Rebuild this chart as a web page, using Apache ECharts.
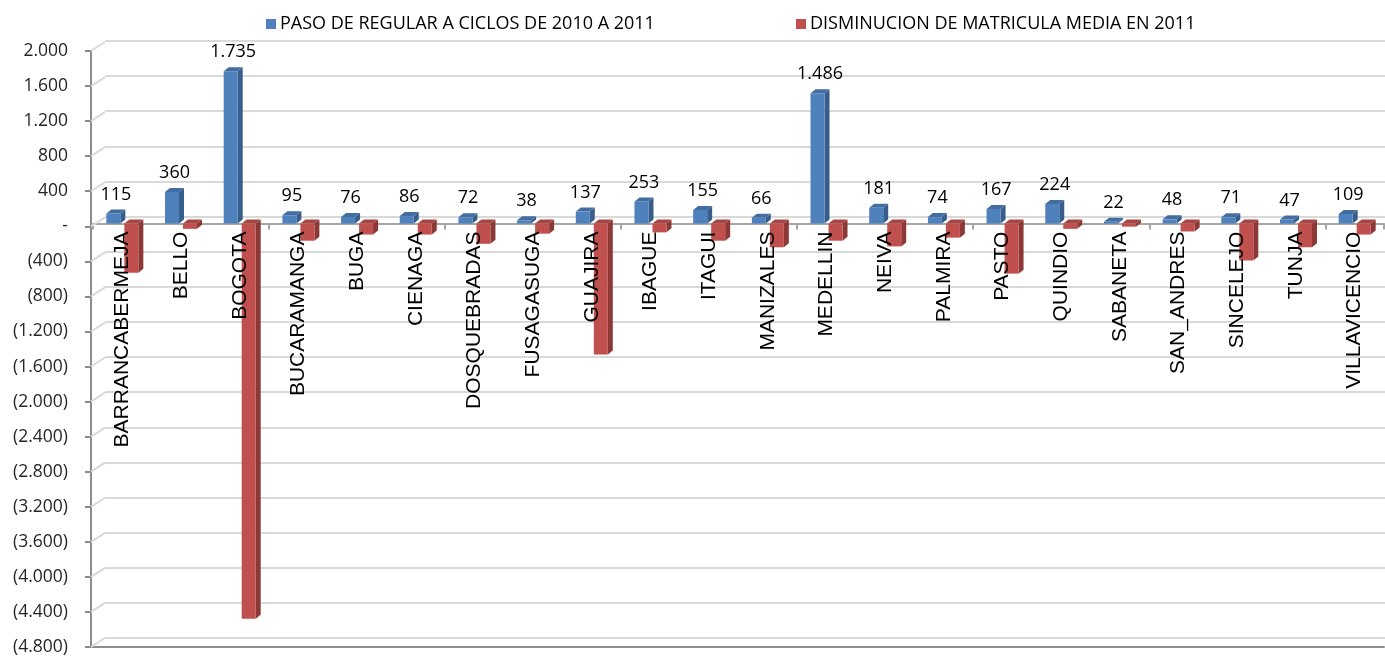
<!DOCTYPE html>
<html>
<head>
<meta charset="utf-8">
<script src="https://cdn.jsdelivr.net/npm/echarts@6/dist/echarts.min.js"></script>
<style>
  html, body { margin: 0; padding: 0; background: #FFFFFF; }
  #chart { width: 1385px; height: 657px; }
</style>
</head>
<body>
<div id="chart"></div>
<script>
(function () {
  "use strict";

  const CIUDADES = ["BARRANCABERMEJA", "BELLO", "BOGOTA", "BUCARAMANGA", "BUGA", "CIENAGA",
    "DOSQUEBRADAS", "FUSAGASUGA", "GUAJIRA", "IBAGUE", "ITAGUI", "MANIZALES", "MEDELLIN",
    "NEIVA", "PALMIRA", "PASTO", "QUINDIO", "SABANETA", "SAN_ANDRES", "SINCELEJO", "TUNJA",
    "VILLAVICENCIO"];
  const PASO_CICLOS = [115, 360, 1735, 95, 76, 86, 72, 38, 137, 253, 155, 66, 1486, 181, 74,
    167, 224, 22, 48, 71, 47, 109];
  const DISMINUCION = [-560, -60, -4500, -195, -125, -125, -230, -115, -1490, -100, -195, -270,
    -195, -260, -160, -570, -60, -35, -90, -420, -270, -125];
  const SERIE_A = "PASO DE REGULAR A CICLOS DE 2010 A 2011";
  const SERIE_B = "DISMINUCION DE MATRICULA MEDIA EN 2011";
  const Y_MIN = -4800, Y_MAX = 2000, Y_STEP = 400;

  const el = document.getElementById("chart");
  const chart = echarts.init(el, null, { renderer: "canvas" });

  // separador de miles con punto, negativos entre paréntesis, cero como "-"
  const miles = (v) => String(Math.abs(Math.round(v))).replace(/\B(?=(\d{3})+(?!\d))/g, ".");
  const fmtEje = (v) => (v === 0 ? "-" : v < 0 ? "(" + miles(v) + ")" : miles(v));

  const BAR_W = 14, DX = 5, DY = 4;

  // columna "3D" tipo Excel: cara frontal + lateral oscuro + tapa
  function columna3d(offset, caras, conEtiqueta) {
    return function (params, api) {
      const i = api.value(0), v = api.value(1);
      const p0 = api.coord([i, 0]), p1 = api.coord([i, v]);
      const x = p0[0] + offset - BAR_W / 2;
      const yTop = Math.min(p0[1], p1[1]);
      const yBot = Math.max(p0[1], p1[1]);
      const kids = [
        { type: "polygon", shape: { points: [[x + BAR_W, yTop], [x + BAR_W + DX, yTop - DY],
            [x + BAR_W + DX, yBot - DY], [x + BAR_W, yBot]] }, style: { fill: caras.side } },
        { type: "polygon", shape: { points: [[x, yTop], [x + DX, yTop - DY],
            [x + BAR_W + DX, yTop - DY], [x + BAR_W, yTop]] }, style: { fill: caras.top } },
        { type: "rect", shape: { x: x, y: yTop, width: BAR_W, height: yBot - yTop },
          style: { fill: caras.front } },
      ];
      if (conEtiqueta) {
        kids.push({ type: "text", style: {
          text: miles(v), x: x + BAR_W / 2 + DX / 2, y: yTop - DY - 6,
          align: "center", verticalAlign: "bottom",
          font: "18px 'Open Sans', sans-serif", fill: "#000000" } });
      }
      return { type: "group", children: kids };
    };
  }

  // pared izquierda: diagonal desde cada marca del eje hasta la línea del fondo
  const MARCAS = [];
  for (let v = Y_MIN; v <= Y_MAX; v += Y_STEP) MARCAS.push(v);
  function diagonalPared(params, api) {
    const p = api.coord([0, api.value(0)]);
    const x0 = params.coordSys.x;
    return { type: "line", shape: { x1: x0, y1: p[1], x2: x0 + 14, y2: p[1] - 9 },
             style: { stroke: "#D9D9D9", lineWidth: 2 } };
  }

  const AZUL = { front: "#4F81BD", side: "#385D8A", top: "#426DA0" };
  const ROJO = { front: "#C0504D", side: "#8C3836", top: "#A64542" };

  const leyenda = (nombre, left) => ({
    top: 10, left: left, itemWidth: 10, itemHeight: 10, icon: "rect", itemGap: 0,
    textStyle: { fontFamily: "Open Sans", fontSize: 18, color: "#000000", padding: [0, 0, 0, -1] },
    data: [nombre],
  });

  const sinBordes = { outerBoundsMode: "none", containLabel: false };
  const BAR_TOP = 48, BAR_H = 597;
  const ALTO_POSITIVO = BAR_H * Y_MAX / (Y_MAX - Y_MIN); // franja de 0 a 2.000
  const franjaCero = Object.assign({ left: 93, right: 1, top: BAR_TOP, height: ALTO_POSITIVO }, sinBordes);

  chart.setOption({
    animation: false,
    legend: [leyenda(SERIE_A, 261), leyenda(SERIE_B, 791)],
    grid: [
      // frente: eje de valores y borde inferior del piso
      Object.assign({ left: 91, right: 1, top: 51, bottom: 10 }, sinBordes),
      // pared del fondo: líneas de división
      Object.assign({ left: 105, right: 0, top: 41, bottom: 19 }, sinBordes),
      // columnas
      Object.assign({ left: 93, right: 1, top: BAR_TOP, height: BAR_H }, sinBordes),
      // eje de categorías en el cero (línea + marcas, bajo las columnas)
      franjaCero,
      // nombres de las ciudades (sobre las columnas)
      Object.assign({}, franjaCero),
    ],
    xAxis: [
      { type: "category", gridIndex: 0, data: CIUDADES, position: "bottom",
        axisLine: { onZero: false, lineStyle: { color: "#8C8C8C", width: 2 } },
        axisTick: { show: false }, axisLabel: { show: false } },
      { type: "category", gridIndex: 1, data: CIUDADES, show: false },
      { type: "category", gridIndex: 2, data: CIUDADES, show: false },
      { type: "category", gridIndex: 3, data: CIUDADES, position: "bottom",
        axisLine: { onZero: false, lineStyle: { color: "#A6A6A6", width: 2 } },
        axisTick: { show: true, inside: false, length: 6, lineStyle: { color: "#A6A6A6", width: 2 } },
        axisLabel: { show: false } },
      { type: "category", gridIndex: 4, data: CIUDADES, position: "bottom", z: 10,
        axisLine: { show: false }, axisTick: { show: false },
        axisLabel: { interval: 0, rotate: 90, margin: 8, color: "#000000",
                     fontFamily: "'Liberation Sans', Arial, sans-serif", fontSize: 21 } },
    ],
    yAxis: [
      { type: "value", gridIndex: 0, min: Y_MIN, max: Y_MAX, interval: Y_STEP,
        axisLine: { show: true, lineStyle: { color: "#8C8C8C", width: 2 } },
        axisTick: { show: true, length: 6, lineStyle: { color: "#8C8C8C", width: 2 } },
        splitLine: { show: false },
        axisLabel: { formatter: fmtEje, margin: 23, color: "#262626",
                     fontFamily: "Open Sans", fontSize: 17.5 } },
      { type: "value", gridIndex: 1, min: Y_MIN, max: Y_MAX, interval: Y_STEP,
        axisLine: { show: false }, axisTick: { show: false }, axisLabel: { show: false },
        splitLine: { show: true, lineStyle: { color: "#D9D9D9", width: 2 } } },
      { type: "value", gridIndex: 2, min: Y_MIN, max: Y_MAX, interval: Y_STEP, show: false,
        splitLine: { show: false } },
      { type: "value", gridIndex: 3, min: 0, max: Y_MAX, show: false, splitLine: { show: false } },
      { type: "value", gridIndex: 4, min: 0, max: Y_MAX, show: false, splitLine: { show: false } },
    ],
    series: [
      { name: "pared", type: "custom", xAxisIndex: 0, yAxisIndex: 0, z: 1, silent: true,
        renderItem: diagonalPared, data: MARCAS.map((v) => [v]) },
      { name: SERIE_A, type: "custom", xAxisIndex: 2, yAxisIndex: 2, z: 3,
        itemStyle: { color: AZUL.front },
        renderItem: columna3d(-9, AZUL, true),
        data: PASO_CICLOS.map((v, i) => [i, v]) },
      { name: SERIE_B, type: "custom", xAxisIndex: 2, yAxisIndex: 2, z: 4,
        itemStyle: { color: ROJO.front },
        renderItem: columna3d(9, ROJO, false),
        data: DISMINUCION.map((v, i) => [i, v]) },
    ],
  });

  window.addEventListener("resize", () => chart.resize());
})();
</script>
</body>
</html>
